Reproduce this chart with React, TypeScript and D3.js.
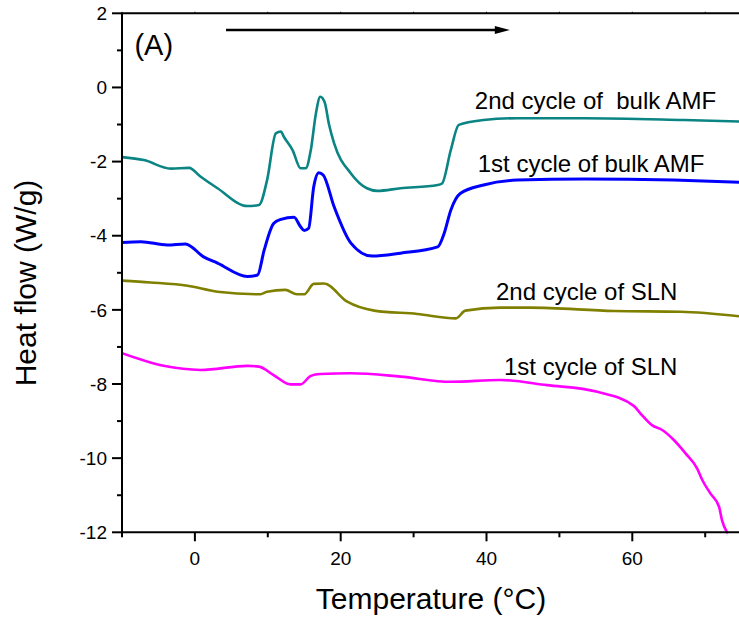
import React from "react";
import * as d3 from "d3";

// DSC heating curves: temperature (°C) vs heat flow (W/g)
const bulk2T = [-10, -7, -3.3, -0.8, 0.8, 3.1, 7.2, 8.8, 9.9, 11.1, 11.8, 12.2, 13.4, 14.5, 15.2, 15.9, 16.6, 17.2, 17.8, 18.4, 19.1, 21.4, 23.6, 25.0, 28.2, 33.3, 33.9, 35.1, 36.2, 39.6, 44.2, 53.4, 67.1, 75];
const bulk2H = [-1.88, -1.96, -2.19, -2.17, -2.41, -2.72, -3.2, -3.17, -2.5, -1.24, -1.19, -1.33, -1.69, -2.18, -2.18, -1.69, -0.7, -0.25, -0.4, -1.0, -1.51, -2.32, -2.72, -2.79, -2.72, -2.63, -2.59, -1.69, -1.01, -0.88, -0.83, -0.83, -0.88, -0.92];

const bulk1T = [-10, -7.4, -3.8, -1.3, 1.2, 3.1, 7.2, 8.6, 9.5, 10.8, 11.8, 13.6, 14.5, 15.0, 15.6, 16.3, 17.0, 17.6, 19.1, 21.4, 24.3, 28.2, 33.3, 34.2, 35.1, 36.4, 39.6, 44.2, 53.4, 65.7, 75];
const bulk1H = [-4.18, -4.16, -4.25, -4.22, -4.57, -4.74, -5.1, -5.06, -4.39, -3.67, -3.56, -3.5, -3.76, -3.86, -3.8, -2.68, -2.3, -2.36, -3.22, -4.2, -4.55, -4.47, -4.3, -3.93, -3.31, -2.86, -2.63, -2.5, -2.47, -2.5, -2.56];

const sln2T = [-10, -6.1, -1.0, 3.1, 9.0, 9.9, 12.4, 14.0, 15.0, 16.3, 17.7, 20.9, 24.6, 30.5, 35.8, 37.1, 41.9, 46.0, 57.5, 66.6, 75];
const sln2H = [-5.21, -5.26, -5.35, -5.51, -5.58, -5.51, -5.46, -5.58, -5.58, -5.3, -5.29, -5.78, -6.02, -6.11, -6.23, -6.02, -5.94, -5.94, -6.03, -6.05, -6.18];

const sln1T = [-10, -4.3, 0.8, 7.2, 8.8, 10.8, 13.1, 14.5, 15.9, 17.2, 21.4, 28.2, 35.1, 41.9, 48.3, 55.2, 60.2, 61.1, 62.7, 64.1, 65.7, 67.3, 68.9, 69.6, 70.7, 71.9, 72.3, 73.0];
const sln1H = [-7.17, -7.51, -7.62, -7.51, -7.53, -7.76, -8.01, -8.01, -7.78, -7.73, -7.71, -7.8, -7.94, -7.89, -8.03, -8.21, -8.59, -8.79, -9.11, -9.24, -9.51, -9.87, -10.28, -10.59, -10.95, -11.31, -11.67, -12.0];

const seriesNames = ["2nd cycle of  bulk AMF", "1st cycle of bulk AMF", "2nd cycle of SLN", "1st cycle of SLN"];
const seriesColors = ["#0b8484", "#0000ff", "#808000", "#ff00ff"];
const labelT = [38.4, 38.8, 41.3, 42.4];
const labelH = [-0.58, -2.27, -5.73, -7.76];

const xMajorTicks = [0, 20, 40, 60];
const xMinorTicks = [-10, 10, 30, 50, 70];
const yMajorTicks = [2, 0, -2, -4, -6, -8, -10, -12];
const yMinorTicks = [1, -1, -3, -5, -7, -9, -11];

const W = 739;
const H = 622;
const FONT = "'Liberation Sans', Arial, sans-serif";

export default function App() {
  const x = d3.scaleLinear().domain([-10, 75]).range([122, 122 + 85 * 7.29]);
  const y = d3.scaleLinear().domain([2, -12]).range([13.3, 532.3]);
  const [x0, x1] = [x(-10), W];
  const [yTop, yBot] = y.range();

  const line = d3
    .line<[number, number]>()
    .x((d) => x(d[0]))
    .y((d) => y(d[1]))
    .curve(d3.curveMonotoneX);

  const series = [
    [bulk2T, bulk2H],
    [bulk1T, bulk1H],
    [sln2T, sln2H],
    [sln1T, sln1H],
  ].map(([ts, hs]) => ts.map((t, i) => [t, hs[i]] as [number, number]));

  const arrowY = y(1.55);
  const arrowX0 = x(4.27);
  const arrowX1 = x(43.2);

  return (
    <svg
      width={W}
      height={H}
      style={{ position: "absolute", left: 0, top: 0, background: "#fff" }}
      fontFamily={FONT}
    >
      <defs>
        <clipPath id="plot">
          <rect x={x0} y={yTop - 2} width={x1 - x0} height={yBot - yTop + 4} />
        </clipPath>
      </defs>

      {/* curves */}
      <g clipPath="url(#plot)" fill="none" strokeLinejoin="round" strokeLinecap="round">
        {series.map((s, i) => (
          <path key={i} d={line(s) || ""} stroke={seriesColors[i]} strokeWidth={i === 1 ? 3 : 2.6} />
        ))}
      </g>

      {/* axes */}
      <g stroke="#000" strokeWidth={2}>
        <line x1={x0} y1={yTop} x2={x1} y2={yTop} />
        <line x1={x0} y1={yTop} x2={x0} y2={yBot} />
        <line x1={x0} y1={yBot} x2={x1} y2={yBot} />
        {xMajorTicks.map((t) => (
          <line key={"xM" + t} x1={x(t)} x2={x(t)} y1={yBot} y2={yBot + 9} />
        ))}
        {xMinorTicks.map((t) => (
          <line key={"xm" + t} x1={x(t)} x2={x(t)} y1={yBot} y2={yBot + 5} />
        ))}
        {xMajorTicks.concat(xMinorTicks).map((t) => (
          <line key={"xt" + t} x1={x(t)} x2={x(t)} y1={yTop} y2={yTop - 1.5} strokeWidth={1} />
        ))}
        {yMajorTicks.map((v) => (
          <line key={"yM" + v} x1={x0 - 10} x2={x0} y1={y(v)} y2={y(v)} />
        ))}
        {yMinorTicks.map((v) => (
          <line key={"ym" + v} x1={x0 - 5} x2={x0} y1={y(v)} y2={y(v)} />
        ))}
      </g>

      {/* tick labels */}
      <g fontSize={19} fill="#000">
        {xMajorTicks.map((t) => (
          <text key={"xl" + t} x={x(t)} y={565} textAnchor="middle">
            {t}
          </text>
        ))}
        {yMajorTicks.map((v) => (
          <text key={"yl" + v} x={107} y={y(v)} dy="0.35em" textAnchor="end">
            {v}
          </text>
        ))}
      </g>

      {/* axis titles */}
      <text x={431} y={609} fontSize={30} textAnchor="middle">
        Temperature (°C)
      </text>
      <text transform={`translate(36,${283}) rotate(-90)`} fontSize={30} textAnchor="middle">
        Heat flow (W/g)
      </text>

      {/* panel tag and heating direction arrow */}
      <text x={x(-8.3)} y={y(0.88)} fontSize={29}>
        (A)
      </text>
      <line x1={arrowX0} x2={arrowX1 - 12} y1={arrowY} y2={arrowY} stroke="#000" strokeWidth={2.6} />
      <polygon
        points={`${arrowX1 - 15},${arrowY - 4} ${arrowX1},${arrowY} ${arrowX1 - 15},${arrowY + 4}`}
        fill="#000"
      />

      {/* curve labels */}
      <g fontSize={24} fill="#000">
        {seriesNames.map((name, i) => (
          <text key={name} x={x(labelT[i])} y={y(labelH[i])} style={{ whiteSpace: "pre" }}>
            {name}
          </text>
        ))}
      </g>
    </svg>
  );
}
